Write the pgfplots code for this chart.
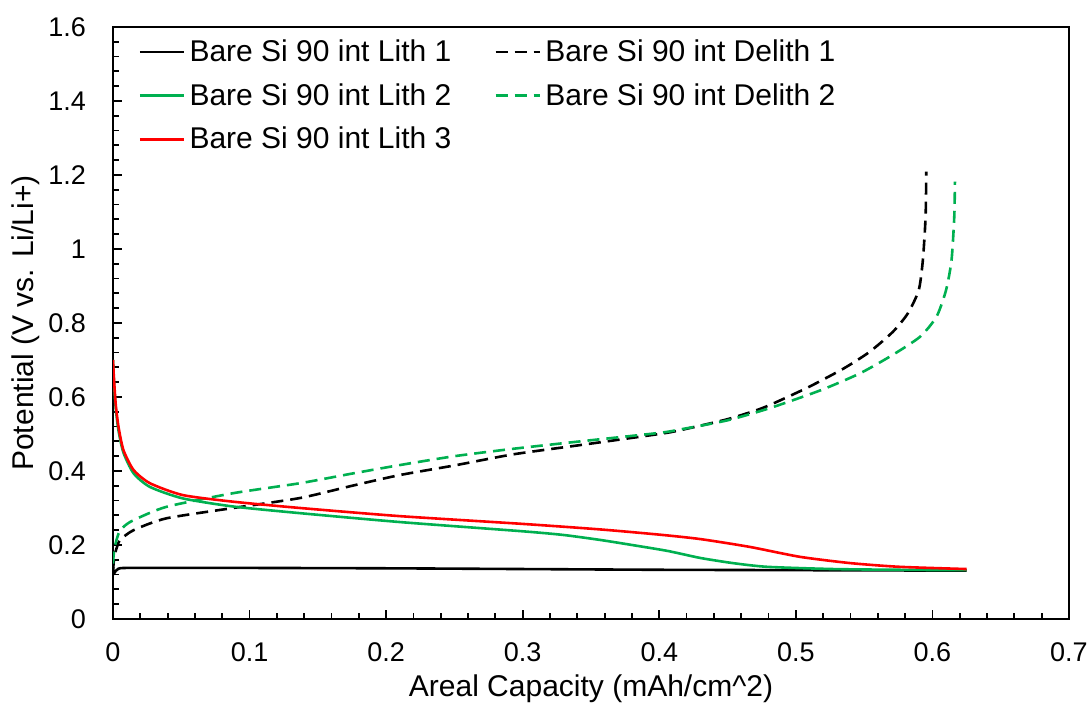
\documentclass[border=0pt]{standalone}
\usepackage{fontspec}
\setmainfont{Liberation Sans}
\usepackage{pgfplots}
\pgfplotsset{compat=1.18}
\definecolor{xlgreen}{RGB}{0,176,80}
\definecolor{xlred}{RGB}{255,0,0}
\begin{document}
\begin{tikzpicture}
\useasboundingbox (-56.5pt,-45.5pt) rectangle (489.5pt,309.5pt);
\begin{axis}[
  at={(0pt,0pt)}, anchor=south west,
  scale only axis,
  width=478pt, height=296pt,
  xmin=0, xmax=0.7, ymin=0, ymax=1.6,
  xtick={0,0.1,...,0.7}, ytick={0,0.2,...,1.6},
  xticklabels={0,0.1,0.2,0.3,0.4,0.5,0.6,0.7},
  yticklabels={0,0.2,0.4,0.6,0.8,1,1.2,1.4,1.6},
  minor x tick num=4, minor y tick num=4,
  xtick pos=bottom, ytick pos=left,
  tick align=inside,
  major tick length=4.5pt, minor tick length=3pt,
  every tick/.style={black, line width=0.9pt},
  axis line style={line width=1pt},
  tick label style={font=\fontsize{13.5}{16}\selectfont},
  /pgf/number format/assume math mode=true,
  xticklabel style={yshift=-8.5pt},
  yticklabel style={xshift=-10pt},
  xlabel={Areal Capacity (mAh/cm\textasciicircum 2)},
  ylabel={Potential (V vs. Li/Li+)},
  label style={font=\fontsize{15}{18}\selectfont},
  xlabel style={yshift=0.5pt},
  ylabel style={yshift=-2.5pt},
  legend columns=2,
  legend style={draw=none, fill=none, at={(0.02,0.993)}, anchor=north west,
    font=\fontsize{15}{22}\selectfont, row sep=5.5pt,
    /tikz/every even column/.append style={column sep=19.5pt}},
  legend cell align=left,
  legend image post style={xscale=1.3},
  every axis plot/.append style={line width=1.3pt, smooth, tension=0.4},
]
\addplot[black] coordinates {
(0,0.14) (0.0005,0.122) (0.002,0.13) (0.004,0.136) (0.01,0.138) (0.05,0.138) (0.1,0.138) (0.2,0.137) (0.3,0.135) (0.4,0.133) (0.5,0.132) (0.6,0.131) (0.625,0.131)};
\addlegendentry{Bare Si 90 int Lith 1}
\addplot[black, dash pattern=on 6pt off 3.5pt] coordinates {
(0,0.13) (0.001,0.17) (0.003,0.195) (0.005,0.213) (0.015,0.24) (0.039,0.272) (0.088,0.30) (0.137,0.327) (0.175,0.36) (0.21,0.389) (0.25,0.415) (0.293,0.445) (0.342,0.47) (0.4,0.50) (0.415,0.51) (0.45,0.54) (0.474,0.568) (0.488,0.59) (0.51,0.628) (0.535,0.677) (0.554,0.722) (0.571,0.776) (0.582,0.826) (0.590,0.889) (0.593,0.97) (0.595,1.087) (0.5955,1.209)};
\addlegendentry{Bare Si 90 int Delith 1}
\addplot[xlgreen] coordinates {
(0,0.70) (0.0007,0.64) (0.002,0.57) (0.004,0.51) (0.0076,0.45) (0.015,0.394) (0.027,0.357) (0.051,0.326) (0.088,0.304) (0.137,0.286) (0.21,0.262) (0.3,0.237) (0.33,0.227) (0.357,0.2135) (0.38,0.20) (0.406,0.184) (0.43,0.165) (0.454,0.151) (0.479,0.141) (0.527,0.135) (0.575,0.133) (0.625,0.132)};
\addlegendentry{Bare Si 90 int Lith 2}
\addplot[xlgreen, dash pattern=on 6pt off 3.5pt] coordinates {
(0,0.15) (0.001,0.19) (0.004,0.23) (0.008,0.25) (0.015,0.267) (0.039,0.303) (0.088,0.34) (0.137,0.367) (0.175,0.393) (0.21,0.416) (0.25,0.44) (0.293,0.46) (0.342,0.48) (0.4,0.503) (0.415,0.512) (0.45,0.537) (0.481,0.57) (0.518,0.618) (0.547,0.664) (0.571,0.714) (0.591,0.763) (0.603,0.817) (0.610,0.889) (0.614,0.97) (0.616,1.087) (0.6165,1.182)};
\addlegendentry{Bare Si 90 int Delith 2}
\addplot[xlred] coordinates {
(0,0.70) (0.0007,0.65) (0.002,0.58) (0.004,0.52) (0.0076,0.457) (0.015,0.403) (0.027,0.367) (0.051,0.335) (0.088,0.317) (0.137,0.30) (0.21,0.278) (0.3,0.257) (0.357,0.242) (0.40,0.228) (0.43,0.216) (0.466,0.195) (0.503,0.168) (0.54,0.151) (0.576,0.141) (0.625,0.135)};
\addlegendentry{Bare Si 90 int Lith 3}
\end{axis}
\end{tikzpicture}
\end{document}
